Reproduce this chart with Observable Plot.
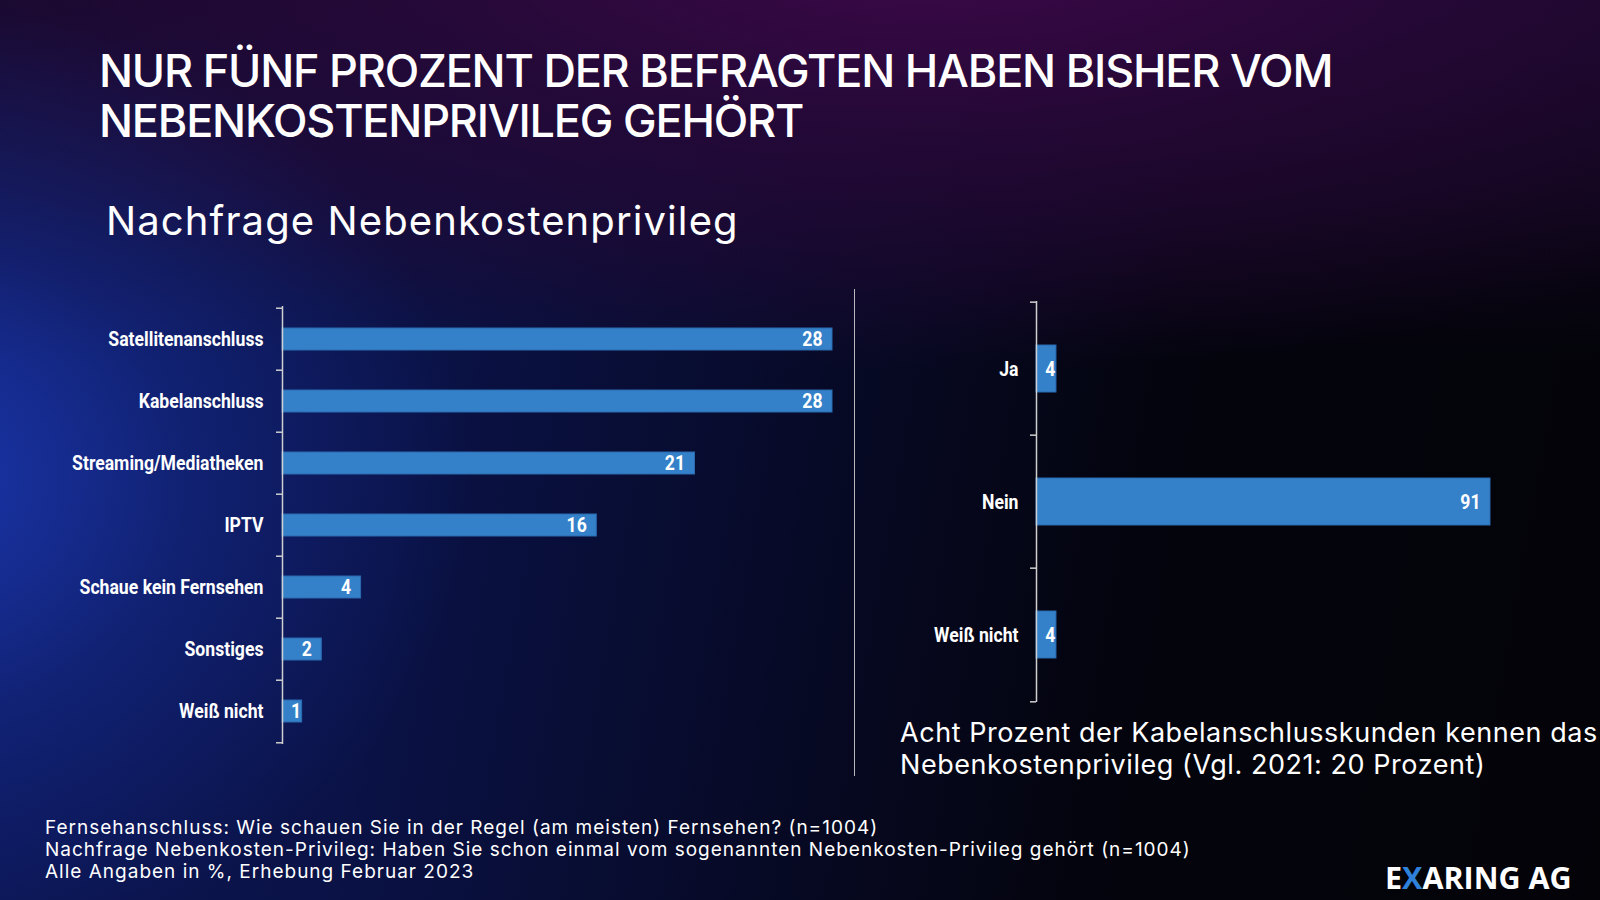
<!DOCTYPE html>
<html>
<head>
<meta charset="utf-8">
<script src="https://cdn.jsdelivr.net/npm/d3@7"></script>
<script src="https://cdn.jsdelivr.net/npm/@observablehq/plot@0.6"></script>
<style>
  html, body { margin: 0; padding: 0; background: #05040c; }
  #page {
    position: relative; width: 1600px; height: 900px; overflow: hidden; color: #fff;
    font-family: Inter, "Open Sans", sans-serif;
    background:
      radial-gradient(ellipse 560px 480px at -90px 480px, rgba(30,62,195,0.8) 0%, rgba(30,62,195,0.3) 50%, rgba(30,62,195,0) 100%),
      radial-gradient(ellipse 1150px 430px at 930px -60px, rgba(64,8,76,0.95) 0%, rgba(48,8,64,0.6) 45%, rgba(40,6,55,0) 100%),
      linear-gradient(to bottom, rgba(22,8,40,0.9) 0%, rgba(22,8,40,0.5) 22%, rgba(22,8,40,0) 40%),
      linear-gradient(100deg, #0c1758 0%, #0a1246 28%, #070a28 50%, #04040e 70%, #030308 100%);
  }
  .abs { position: absolute; white-space: nowrap; }
  #title { left: 99px; top: 46px; font-size: 45px; line-height: 50px; font-weight: 500; letter-spacing: -1.2px; }
  #subtitle { left: 106px; top: 199px; font-size: 40px; line-height: 44px; font-weight: 400; letter-spacing: 1.1px; }
  #note { left: 900px; top: 717px; font-size: 27px; line-height: 32px; font-weight: 400; letter-spacing: 0.55px; }
  #foot { left: 45px; top: 817px; font-size: 19px; line-height: 22px; font-weight: 400; letter-spacing: 1px; }
  #logo { left: 1385px; top: 858px; font-family: "Open Sans", sans-serif; font-weight: 700; font-size: 30.5px; line-height: 38px; }
  #logo span { color: #2f80d8; }
  #sep { left: 854px; top: 289px; width: 1px; height: 487px; background: rgba(215,215,215,0.85); }
  #chartL { left: 0px; top: 290px; }
  #chartR { left: 860px; top: 285px; }
</style>
</head>
<body>
<div id="page">
  <div id="title" class="abs">NUR FÜNF PROZENT DER BEFRAGTEN HABEN BISHER VOM<br>NEBENKOSTENPRIVILEG GEHÖRT</div>
  <div id="subtitle" class="abs">Nachfrage Nebenkostenprivileg</div>
  <div id="chartL" class="abs chart"></div>
  <div id="sep" class="abs"></div>
  <div id="chartR" class="abs chart"></div>
  <div id="note" class="abs">Acht Prozent der Kabelanschlusskunden kennen das<br>Nebenkostenprivileg (Vgl. 2021: 20 Prozent)</div>
  <div id="foot" class="abs">Fernsehanschluss: Wie schauen Sie in der Regel (am meisten) Fernsehen? (n=1004)<br>Nachfrage Nebenkosten-Privileg: Haben Sie schon einmal vom sogenannten Nebenkosten-Privileg gehört (n=1004)<br>Alle Angaben in %, Erhebung Februar 2023</div>
  <div id="logo" class="abs">E<span>X</span>ARING AG</div>
</div>
<script>
// ---- Data ----
const tvCategories = ["Satellitenanschluss", "Kabelanschluss", "Streaming/Mediatheken", "IPTV", "Schaue kein Fernsehen", "Sonstiges", "Weiß nicht"];
const tvValues = [28, 28, 21, 16, 4, 2, 1];
const privCategories = ["Ja", "Nein", "Weiß nicht"];
const privValues = [4, 91, 4];

// ---- Styling ----
const BAR_FILL = "#3581c9";
const BAR_STROKE = "#2a6bb0";
const AXIS_COLOR = "#cfcfcf";
const LABEL_FONT = 'Roboto, "Liberation Sans", sans-serif';
const CONDENSE = 0.84; // horizontal squeeze to mimic a condensed bold face

function condenseTexts(svg) {
  // Plot positions each text with transform="translate(x,y)"; append a horizontal squeeze
  svg.querySelectorAll("text").forEach(t => {
    const tr = t.getAttribute("transform") || "";
    t.setAttribute("transform", `${tr} scale(${CONDENSE},1)`.trim());
  });
  return svg;
}

function barChart({cats, values, width, height, marginLeft, marginRight, marginTop, marginBottom, xMax, tickPadding}) {
  const data = cats.map((c, i) => ({cat: c, value: values[i]}));
  const step = (height - marginTop - marginBottom) / cats.length;
  const pxPerUnit = (width - marginLeft - marginRight) / xMax;
  const wide = data.filter(d => d.value * pxPerUnit >= 30);
  const narrow = data.filter(d => d.value * pxPerUnit < 30);
  const tickStyle = {x1: 0, x2: 0, insetLeft: -6, stroke: AXIS_COLOR, strokeWidth: 1.5};
  const svg = Plot.plot({
    width, height, marginLeft, marginRight, marginTop, marginBottom,
    x: {domain: [0, xMax], axis: null},
    y: {domain: cats, paddingInner: 0.65, paddingOuter: 0.325},
    style: {background: "transparent", color: "#fff", fontFamily: LABEL_FONT, fontWeight: "bold", fontSize: "21px", overflow: "visible"},
    marks: [
      Plot.barX(data, {x: "value", y: "cat", fill: BAR_FILL, stroke: BAR_STROKE, strokeWidth: 1}),
      Plot.ruleX([0], {stroke: AXIS_COLOR, strokeWidth: 1.5}),
      Plot.ruleY(data, {y: "cat", dy: -step / 2, ...tickStyle}),
      Plot.ruleY(data.slice(-1), {y: "cat", dy: step / 2, ...tickStyle}),
      Plot.axisY({tickSize: 0, tickPadding, label: null}),
      Plot.text(wide, {x: "value", y: "cat", text: d => String(d.value), textAnchor: "end", dx: -10, fill: "#fff"}),
      Plot.text(narrow, {x: "value", y: "cat", text: d => String(d.value), textAnchor: "end", dx: -1, fill: "#fff"})
    ]
  });
  return condenseTexts(svg);
}

document.getElementById("chartL").append(barChart({
  cats: tvCategories, values: tvValues,
  width: 860, height: 470, marginLeft: 282, marginRight: 28, marginTop: 16, marginBottom: 16,
  xMax: 28, tickPadding: 19
}));

document.getElementById("chartR").append(barChart({
  cats: privCategories, values: privValues,
  width: 740, height: 430, marginLeft: 176, marginRight: 110, marginTop: 16, marginBottom: 13,
  xMax: 91, tickPadding: 18
}));
</script>
</body>
</html>
